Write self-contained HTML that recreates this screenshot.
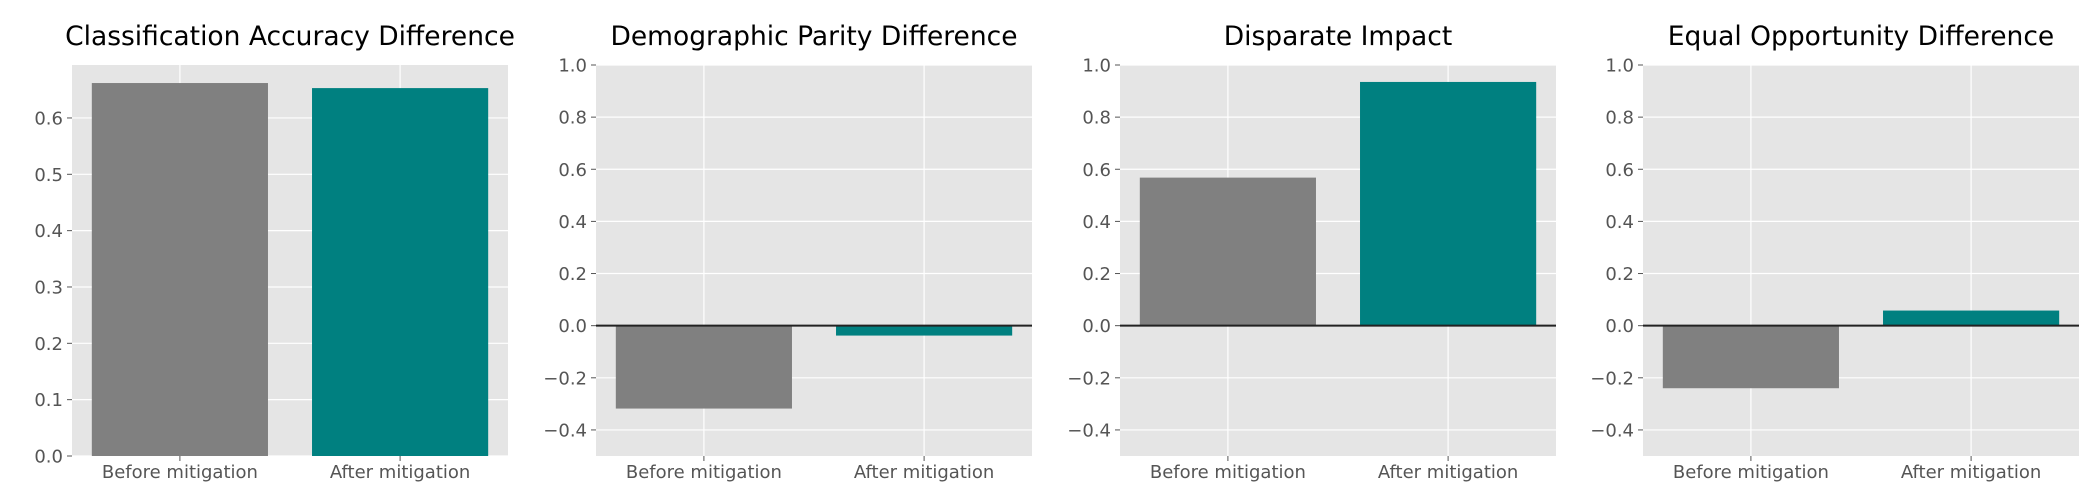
<!DOCTYPE html>
<html><head><meta charset="utf-8"><style>
body{margin:0;background:#fff}
svg{display:block;font-family:"DejaVu Sans","Liberation Sans",sans-serif}
</style></head><body>
<svg id="chart" width="2095" height="497" viewBox="0 0 2095 497" xmlns="http://www.w3.org/2000/svg"></svg>
<script>
const titles = ["Classification Accuracy Difference","Demographic Parity Difference","Disparate Impact","Equal Opportunity Difference"];
const categories = ["Before mitigation","After mitigation"];
const accuracyValues = [0.662, 0.653];
const parityValues = [-0.318, -0.038];
const impactValues = [0.568, 0.935];
const opportunityValues = [-0.24, 0.058];
const accTicks = ["0.0","0.1","0.2","0.3","0.4","0.5","0.6"];
const fairTicks = ["\u22120.4","\u22120.2","0.0","0.2","0.4","0.6","0.8","1.0"];
const barColors = ["#808080","#008080"];

const svg = document.getElementById('chart');
const NS = 'http://www.w3.org/2000/svg';
function mk(tag, attrs, parent){const e=document.createElementNS(NS,tag);for(const k in attrs)e.setAttribute(k,attrs[k]);(parent||svg).appendChild(e);return e;}

const panels = [
 {vals:accuracyValues, ticks:accTicks, ymin:0, ymax:0.694, zero:false, left:72},
 {vals:parityValues, ticks:fairTicks, ymin:-0.5, ymax:1.0, zero:true, left:596},
 {vals:impactValues, ticks:fairTicks, ymin:-0.5, ymax:1.0, zero:true, left:1120},
 {vals:opportunityValues, ticks:fairTicks, ymin:-0.5, ymax:1.0, zero:true, left:1643}
];
const W=436, TOP=65, BOT=456;
panels.forEach((p,i)=>{
  const g=mk('g',{});
  
  
  const x=v=>p.left+(v+0.49)/1.98*W;
  const y=v=>BOT-(v-p.ymin)/(p.ymax-p.ymin)*(BOT-TOP);
  const bg=mk('rect',{x:p.left,y:TOP,width:W,height:BOT-TOP,fill:'#e5e5e5'},g);
  
  
  p.ticks.forEach(t=>{
    const v=parseFloat(t.replace('\u2212','-'));
    const yy=y(v);
    mk('line',{x1:p.left,x2:p.left+W,y1:yy,y2:yy,stroke:'#fff','stroke-width':1.2},g);
    mk('line',{x1:p.left-5,x2:p.left,y1:yy,y2:yy,stroke:'#555','stroke-width':1},g);
    const tx=mk('text',{x:p.left-9,y:yy+6.5,'text-anchor':'end','font-size':'18px',fill:'#555'},g);
    tx.textContent=t;
    
    
  });
  categories.forEach((c,j)=>{
    const cx=x(j);
    mk('line',{x1:cx,x2:cx,y1:TOP,y2:BOT,stroke:'#fff','stroke-width':1.2},g);
    mk('line',{x1:cx,x2:cx,y1:BOT,y2:BOT+5,stroke:'#555','stroke-width':1},g);
    const tx=mk('text',{x:cx,y:478,'text-anchor':'middle','font-size':'18px',fill:'#555'},g);
    tx.textContent=c;
    
    
  });
  p.vals.forEach((v,j)=>{
    const y0=y(0), y1=y(v);
    const r=mk('rect',{x:x(j-0.4),y:Math.min(y0,y1),width:x(j+0.4)-x(j-0.4),height:Math.abs(y1-y0),fill:barColors[j]},g);
    
    
  });
  if(p.zero){
    const zl=mk('line',{x1:p.left,x2:p.left+W,y1:y(0),y2:y(0),stroke:'#222','stroke-width':2},g);
    
    
  }
  const tt=mk('text',{x:p.left+W/2,y:45,'text-anchor':'middle','font-size':'26.5px',fill:'#000'},g);
  tt.textContent=titles[i];
  
  
});
</script>
</body></html>
